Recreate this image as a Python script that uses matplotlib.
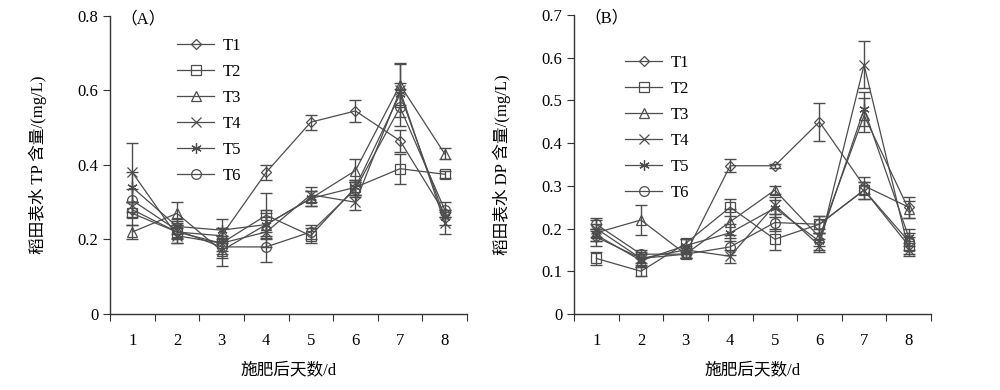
import numpy as np
import matplotlib
matplotlib.use("Agg")
import matplotlib.pyplot as plt

plt.rcParams['font.family'] = ['Liberation Serif', 'Noto Sans CJK SC', 'DejaVu Sans']

days = [1, 2, 3, 4, 5, 6, 7, 8]
labels = ["T1", "T2", "T3", "T4", "T5", "T6"]

# (A) 稻田表水 TP 含量 (mg/L)
tp_t1 = [0.28, 0.22, 0.21, 0.38, 0.515, 0.545, 0.465, 0.27]
tp_t2 = [0.27, 0.22, 0.19, 0.265, 0.21, 0.34, 0.39, 0.375]
tp_t3 = [0.22, 0.27, 0.17, 0.24, 0.31, 0.385, 0.615, 0.43]
tp_t4 = [0.38, 0.21, 0.19, 0.22, 0.32, 0.30, 0.60, 0.245]
tp_t5 = [0.34, 0.235, 0.225, 0.24, 0.31, 0.34, 0.59, 0.26]
tp_t6 = [0.305, 0.225, 0.18, 0.18, 0.22, 0.335, 0.555, 0.28]

tp_e1 = [0.02, 0.02, 0.02, 0.02, 0.02, 0.03, 0.03, 0.01]
tp_e2 = [0.03, 0.03, 0.02, 0.06, 0.02, 0.02, 0.04, 0.01]
tp_e3 = [0.02, 0.03, 0.04, 0.03, 0.02, 0.03, 0.06, 0.015]
tp_e4 = [0.08, 0.02, 0.04, 0.04, 0.02, 0.02, 0.07, 0.03]
tp_e5 = [0.04, 0.02, 0.03, 0.04, 0.02, 0.02, 0.03, 0.02]
tp_e6 = [0.03, 0.02, 0.02, 0.04, 0.02, 0.02, 0.05, 0.02]

# (B) 稻田表水 DP 含量 (mg/L)
dp_t1 = [0.18, 0.13, 0.14, 0.347, 0.347, 0.45, 0.30, 0.25]
dp_t2 = [0.13, 0.10, 0.165, 0.25, 0.175, 0.21, 0.29, 0.16]
dp_t3 = [0.19, 0.22, 0.14, 0.216, 0.29, 0.18, 0.465, 0.245]
dp_t4 = [0.20, 0.13, 0.15, 0.135, 0.255, 0.16, 0.583, 0.15]
dp_t5 = [0.185, 0.125, 0.16, 0.19, 0.248, 0.17, 0.48, 0.18]
dp_t6 = [0.21, 0.14, 0.14, 0.157, 0.214, 0.21, 0.29, 0.17]

dp_e1 = [0.02, 0.01, 0.01, 0.015, 0.005, 0.045, 0.02, 0.025]
dp_e2 = [0.015, 0.01, 0.01, 0.02, 0.025, 0.02, 0.02, 0.02]
dp_e3 = [0.02, 0.035, 0.01, 0.03, 0.01, 0.02, 0.04, 0.02]
dp_e4 = [0.02, 0.015, 0.01, 0.015, 0.02, 0.015, 0.055, 0.015]
dp_e5 = [0.015, 0.015, 0.015, 0.02, 0.02, 0.02, 0.04, 0.02]
dp_e6 = [0.015, 0.01, 0.01, 0.02, 0.02, 0.02, 0.02, 0.02]

markers = ["D", "s", "^", "x", (6, 2, 0), "o"]
msizes = [5, 7, 7, 7.5, 7.5, 7]
col = "#4d4d4d"

fig = plt.figure(figsize=(10, 3.9), dpi=100)
axA = fig.add_axes([0.110, 0.195, 0.357, 0.764])
axB = fig.add_axes([0.574, 0.195, 0.357, 0.7665])


def draw(ax, series, errs, ymax, ystep, ylabel, tag, leg_anchor):
    for vals, err, m, ms, lab in zip(series, errs, markers, msizes, labels):
        ax.errorbar(days, vals, yerr=err, fmt="none", ecolor=col,
                    elinewidth=1.0, capsize=4, capthick=1.0, zorder=2)
        ax.plot(days, vals, color=col, lw=0.9, marker=m, ms=ms,
                mfc="none", mec=col, mew=0.9, label=lab, zorder=3)
    ax.set_xlim(0.5, 8.5)
    ax.set_ylim(0, ymax)
    ax.set_xticks(np.arange(0.5, 9.0, 1.0))
    ax.set_xticklabels([])
    ax.set_xticks(days, minor=True)
    ax.set_xticklabels([str(d) for d in days], minor=True)
    ax.tick_params(axis="x", which="minor", length=0, pad=14, labelsize=12)
    ax.tick_params(axis="x", which="major", length=5, direction="out", color="#333333")
    yt = np.round(np.arange(0, ymax + 1e-9, ystep), 2)
    ax.set_yticks(yt)
    ax.set_yticklabels(["0"] + [f"{v:g}" for v in yt[1:]])
    ax.tick_params(axis="y", length=5, direction="out", labelsize=12, color="#333333")
    for s in ["top", "right"]:
        ax.spines[s].set_visible(False)
    for s in ["left", "bottom"]:
        ax.spines[s].set_color("#333333")
        ax.spines[s].set_linewidth(1.0)
    ax.set_xlabel("施肥后天数/d", fontsize=12, labelpad=9)
    ax.set_ylabel(ylabel, fontsize=12, labelpad=22)
    ax.text(0.03, 0.99, tag, transform=ax.transAxes, fontsize=12,
            ha="left", va="center")
    ax.legend(loc="upper left", bbox_to_anchor=leg_anchor, frameon=False,
              fontsize=12, handlelength=2.2, handletextpad=0.5,
              labelspacing=0.6, borderaxespad=0)


draw(axA, [tp_t1, tp_t2, tp_t3, tp_t4, tp_t5, tp_t6],
     [tp_e1, tp_e2, tp_e3, tp_e4, tp_e5, tp_e6],
     0.8, 0.2, "稻田表水 TP 含量/(mg/L)", "（A）", (0.17, 0.95))
draw(axB, [dp_t1, dp_t2, dp_t3, dp_t4, dp_t5, dp_t6],
     [dp_e1, dp_e2, dp_e3, dp_e4, dp_e5, dp_e6],
     0.7, 0.1, "稻田表水 DP 含量/(mg/L)", "（B）", (0.125, 0.89))

fig.savefig("out.png", dpi=100)
